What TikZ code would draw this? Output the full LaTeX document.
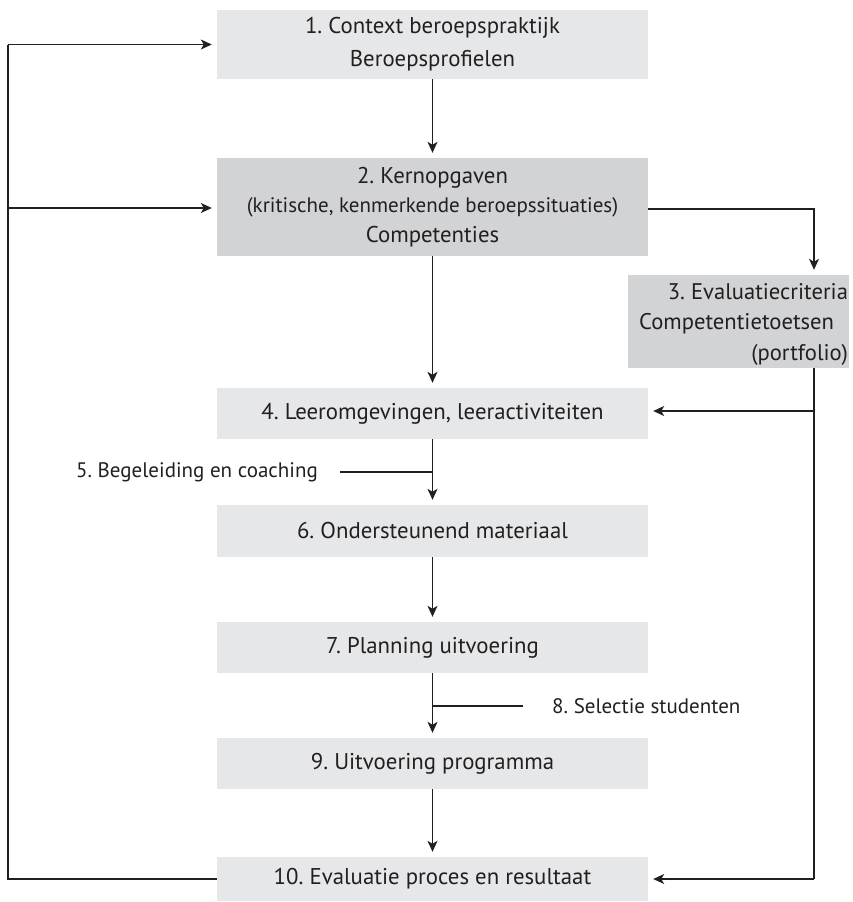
\documentclass[tikz,border=0pt]{standalone}
\usepackage{fontspec}
\setmainfont{PT Sans}
\usetikzlibrary{arrows.meta,calc}
\definecolor{boxlight}{HTML}{E6E7E8}
\definecolor{boxdark}{HTML}{D1D3D4}
\definecolor{ink}{HTML}{231F20}
\begin{document}
\frenchspacing
\begin{tikzpicture}[x=1pt,y=-1pt,
  box/.style={rectangle,fill=boxlight,minimum width=431pt,inner sep=0pt,align=center,text=ink,font=\fontsize{22.8}{33}\selectfont},
  darkbox/.style={box,fill=boxdark},
  lbl/.style={inner sep=0pt,text=ink,font=\fontsize{21}{22}\selectfont},
  conn/.style={draw=ink,line width=1.2pt},
  arr/.style={conn,-{Stealth[length=11pt,width=10pt,inset=3pt]},shorten >=5pt}
]
\useasboundingbox (0,0) rectangle (853,902);
\node[box,minimum height=69pt] (b1) at (432.5,44.5) {1. Context beroepspraktijk\\Beroepsprofielen};
\node[darkbox,minimum height=98pt,font=\fontsize{22.8}{29.5}\selectfont] (b2) at (432.5,207) {2. Kernopgaven\\{\fontsize{21}{22}\selectfont(kritische, kenmerkende beroepssituaties)}\\Competenties};
\node[darkbox,minimum width=221pt,minimum height=93pt] (b3) at (738.5,321.5) {};
\node[anchor=east,inner sep=0pt,align=right,text=ink,font=\fontsize{22.6}{30.5}\selectfont] (t3) at ([xshift=-1pt,yshift=-2.5pt]b3.east) {3. Evaluatiecriteria\\Competentietoetsen\kern14pt\\(portfolio)};
\node[box,minimum height=51pt] (b4) at (432.5,413.5) {4. Leeromgevingen, leeractiviteiten};
\node[box,minimum height=52pt] (b6) at (432.5,531) {6. Ondersteunend materiaal};
\node[box,minimum height=51pt] (b7) at (432.5,647.5) {7. Planning uitvoering};
\node[box,minimum height=51pt] (b9) at (432.5,763.5) {9. Uitvoering programma};
\node[box,minimum height=44pt] (b10) at (432.5,879) {10. Evaluatie proces en resultaat};
\node[lbl,anchor=east] (l5) at (318,472) {5. Begeleiding en coaching};
\node[lbl,anchor=west] (l8) at (552,706) {8. Selectie studenten};
\coordinate (L) at (8,0);
\coordinate (R) at (814,0);
% main chain
\draw[arr] (b1.south) -- (b2.north);
\draw[arr] (b2.south) -- (b4.north);
\draw[arr] (b4.south) -- (b6.north);
\draw[arr] (b6.south) -- (b7.north);
\draw[arr] (b7.south) -- (b9.north);
\draw[arr] (b9.south) -- (b10.north);
% side inputs
\draw[conn] ([xshift=22pt]l5.east) -- (l5.east -| b4.south);
\draw[conn] ([xshift=-29pt]l8.west) -- (l8.west -| b7.south);
% to box 3
\draw[arr] ([yshift=-2pt]b2.east) -- ([yshift=-2pt]b2.east -| R) -- (b3.north -| R);
% from box 3
\draw[conn] (b3.south -| R) -- (b10.east -| R);
\draw[arr] (b10.east -| R) -- (b10.east);
\draw[arr] ([yshift=2.5pt]b4.east -| R) -- ([yshift=2.5pt]b4.east);
% feedback loop
\draw[conn] (b10.west) -- (b10.west -| L) -- (b1.west -| L);
\draw[arr] (b1.west -| L) -- (b1.west);
\draw[arr] ([yshift=-1pt]b2.west -| L) -- ([yshift=-1pt]b2.west);
\end{tikzpicture}
\end{document}
